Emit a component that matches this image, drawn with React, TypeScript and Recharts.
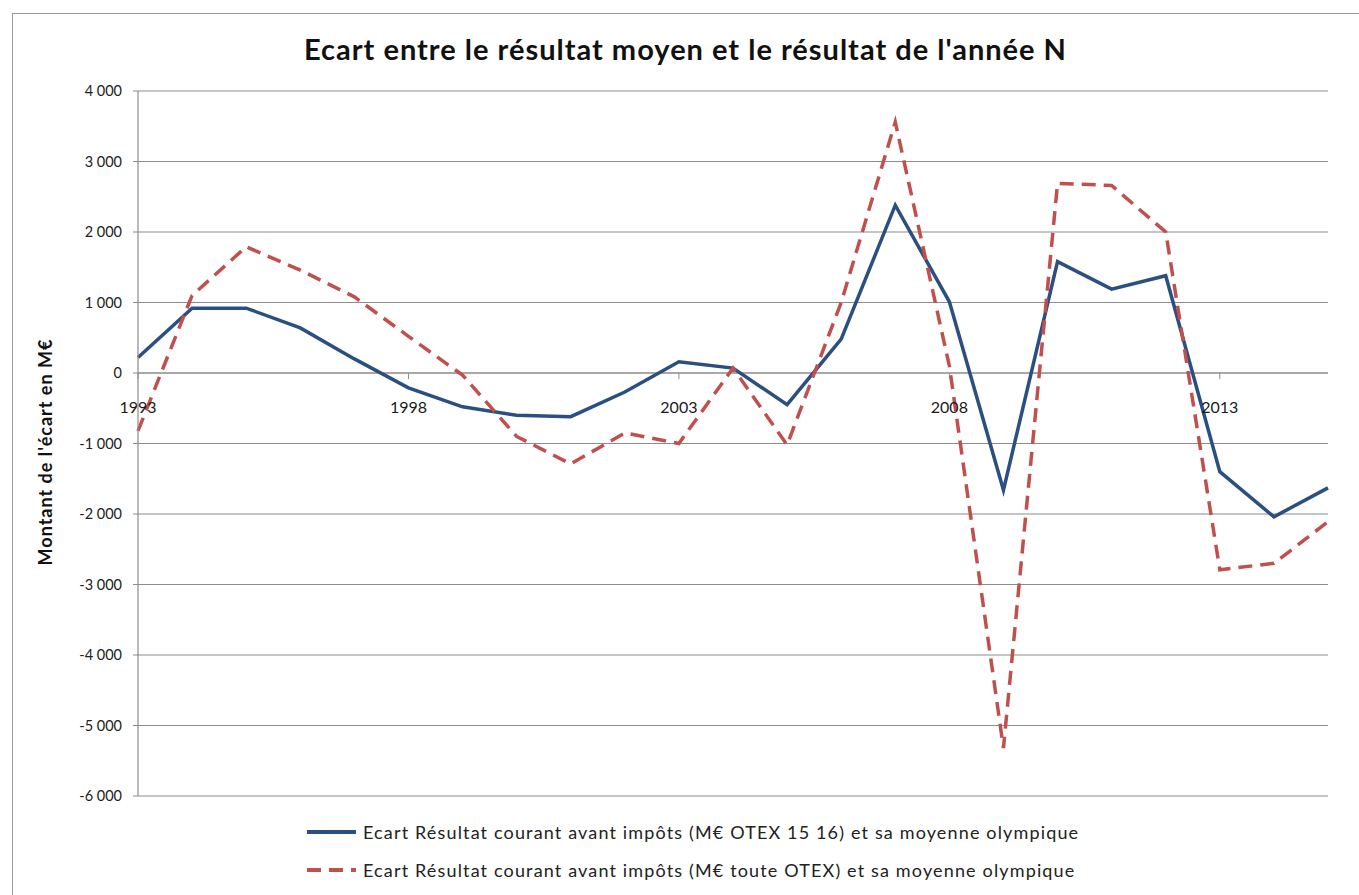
import React from "react"
import { LineChart, Line, XAxis, YAxis, CartesianGrid, ReferenceLine, Legend } from "recharts"

// Ecart entre le résultat moyen et le résultat de l'année N
const years = [
  "1993", "1994", "1995", "1996", "1997", "1998", "1999", "2000", "2001", "2002", "2003",
  "2004", "2005", "2006", "2007", "2008", "2009", "2010", "2011", "2012", "2013", "2014", "2015",
]
const ecartOtex1516 = [
  220, 920, 920, 640, 200, -210, -480, -600, -620, -270, 160,
  70, -450, 480, 2380, 1010, -1660, 1580, 1190, 1380, -1400, -2040, -1630,
]
const ecartTouteOtex = [
  -820, 1100, 1790, 1460, 1080, 520, -30, -900, -1290, -850, -1000,
  70, -1020, 1000, 3560, 100, -5320, 2690, 2660, 2000, -2790, -2700, -2110,
]
const yTicks = [4000, 3000, 2000, 1000, 0, -1000, -2000, -3000, -4000, -5000, -6000]

const seriesNames = [
  "Ecart Résultat courant avant impôts (M€ OTEX 15 16) et sa moyenne olympique",
  "Ecart Résultat courant avant impôts (M€ toute OTEX) et sa moyenne olympique",
]

const data = years.map((year, i) => ({
  year,
  otex: ecartOtex1516[i],
  toute: ecartTouteOtex[i],
}))

const W = 1359
const H = 895
const TOP = 91
const BOTTOM = 796
const Y_MAX = 4000
const Y_MIN = -6000
const ZERO_Y = TOP + ((Y_MAX - 0) / (Y_MAX - Y_MIN)) * (BOTTOM - TOP)

const FONT = "Lato, 'Open Sans', sans-serif"
const BLUE = "#2a4f80"
const RED = "#c0504d"
const GRID = "#8c8c8c"

function fmt(v: number) {
  const s = Math.abs(v).toString().replace(/\B(?=(\d{3})+(?!\d))/g, " ")
  return v < 0 ? "-" + s : s
}

// category labels sit under the zero line, like Excel's crossing axis
function YearTick(props: any) {
  const { x, payload } = props
  return (
    <g>
      <line x1={x} x2={x} y1={ZERO_Y} y2={ZERO_Y + 6} stroke={GRID} />
      <text
        x={x}
        y={ZERO_Y + 40}
        textAnchor="middle"
        fontFamily={FONT}
        fill="#1a1a1a"
        style={{ fontSize: 16, fontFamily: FONT }}
      >
        {payload.value}
      </text>
    </g>
  )
}

function LegendBox() {
  return (
    <div style={{ fontFamily: FONT, fontSize: 18, letterSpacing: 1.15, color: "#222" }}>
      {seriesNames.map((name, i) => (
        <div key={name} style={{ display: "flex", alignItems: "center", height: 38 }}>
          <svg width={56} height={10} style={{ marginRight: 2 }}>
            <line
              x1={2}
              x2={51}
              y1={5}
              y2={5}
              stroke={i === 0 ? BLUE : RED}
              strokeWidth={4}
              strokeDasharray={i === 0 ? undefined : "14 8"}
            />
          </svg>
          <span>{name}</span>
        </div>
      ))}
    </div>
  )
}

export default function App() {
  return (
    <div style={{ position: "absolute", left: 0, top: 0, width: W, height: H, background: "#fff", overflow: "hidden" }}>
      <div
        style={{
          position: "absolute",
          left: 12,
          top: 13,
          width: W,
          height: H,
          border: "1.5px solid #9a9a9a",
        }}
      />
      <div
        style={{
          position: "absolute",
          left: 12,
          width: W - 12,
          top: 31,
          textAlign: "center",
          fontFamily: FONT,
          fontWeight: 700,
          fontSize: 29,
          letterSpacing: 1,
          color: "#111",
        }}
      >
        Ecart entre le résultat moyen et le résultat de l'année N
      </div>
      <LineChart width={W} height={H} data={data} margin={{ top: TOP, right: W - 1328, bottom: H - BOTTOM - 1, left: 0 }}>
        <CartesianGrid horizontal vertical={false} stroke={GRID} strokeWidth={1.2} />
        <XAxis
          dataKey="year"
          height={1}
          interval={4}
          axisLine={false}
          tickLine={false}
          tick={(p: any) => <YearTick {...p} />}
        />
        <YAxis
          width={138}
          domain={[Y_MIN, Y_MAX]}
          ticks={yTicks}
          tickFormatter={fmt}
          axisLine={{ stroke: GRID, strokeWidth: 1.2 }}
          tickLine={{ stroke: GRID }}
          tickSize={5}
          tickMargin={11}
          tick={{ fontSize: 14.5, fontFamily: FONT, fill: "#222" }}
          label={() => (
            <text
              x={52}
              y={452}
              transform="rotate(-90 52 452)"
              textAnchor="middle"
              fontFamily={FONT}
              fontWeight={700}
              fontSize={18}
              letterSpacing={1}
              fill="#111"
            >
              Montant de l'écart en M€
            </text>
          )}
        />
        <ReferenceLine y={0} stroke={GRID} strokeWidth={1.2} />
        <Line
          type="linear"
          dataKey="otex"
          name={seriesNames[0]}
          stroke={BLUE}
          strokeWidth={3.5}
          dot={false}
          isAnimationActive={false}
        />
        <Line
          type="linear"
          dataKey="toute"
          name={seriesNames[1]}
          stroke={RED}
          strokeWidth={3.5}
          strokeDasharray="14 8"
          dot={false}
          isAnimationActive={false}
        />
        <Legend
          layout="vertical"
          align="center"
          verticalAlign="middle"
          content={<LegendBox />}
          wrapperStyle={{ top: 813, left: 305, width: 850 }}
        />
      </LineChart>
    </div>
  )
}
